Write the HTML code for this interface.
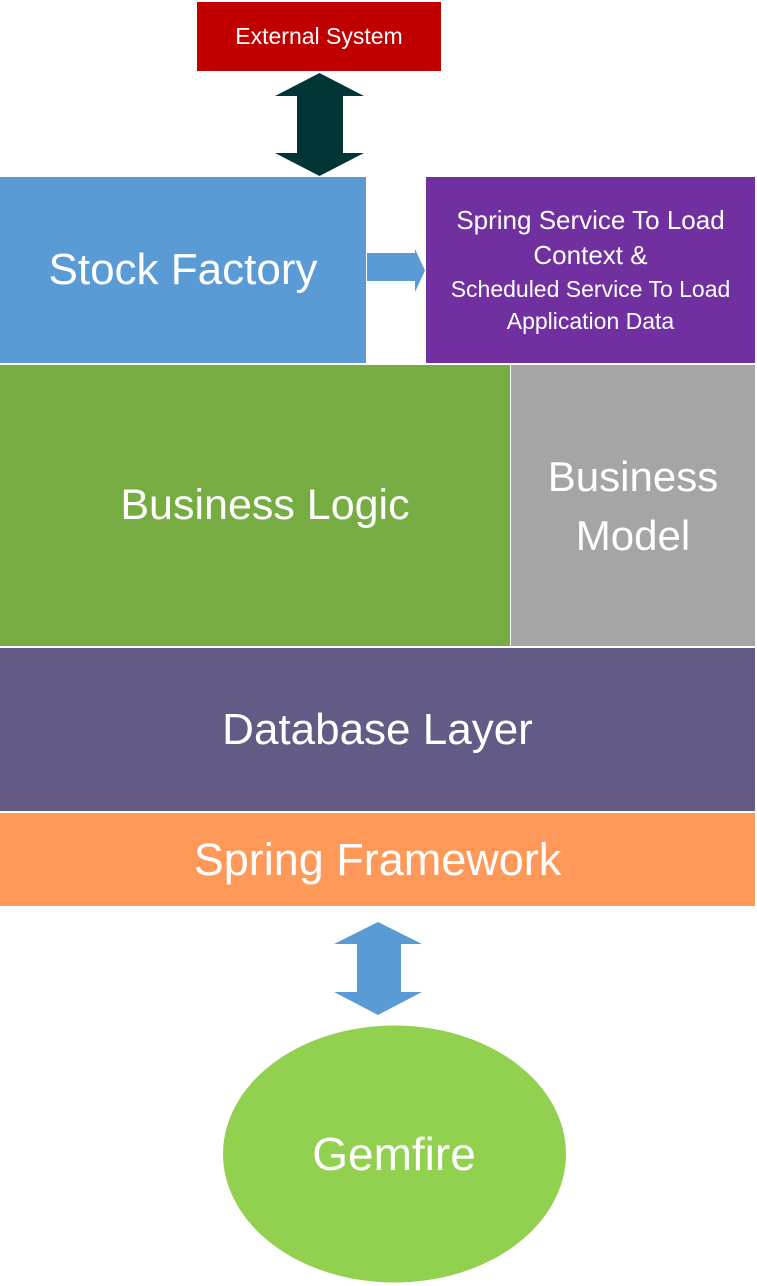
<!DOCTYPE html>
<html><head><style>
body{margin:0;width:757px;height:1286px;background:#fff;position:relative;overflow:hidden;font-family:"Liberation Sans",sans-serif;color:#fff}
.b{position:absolute;display:flex;align-items:center;justify-content:center;text-align:center}
</style></head><body>
<div class="b" style="left:197px;top:2px;width:244px;height:69px;background:#c00000;font-size:23px">External System</div>
<div class="b" style="left:0;top:177px;width:366px;height:186px;background:#5b9bd5;font-size:44px">Stock Factory</div>
<div class="b" style="left:426px;top:177px;width:329px;height:186px;background:#7030a0;font-size:26px;line-height:35px;flex-direction:column"><div>Spring Service To Load<br>Context &amp;</div><div style="font-size:23px;line-height:32px">Scheduled Service To Load<br>Application Data</div></div>
<div class="b" style="left:0;top:365px;width:510px;height:281px;background:#77ac42;font-size:43px;padding-left:20px;box-sizing:border-box">Business Logic</div>
<div class="b" style="left:511px;top:365px;width:244px;height:281px;background:#a5a5a5;font-size:42px;line-height:59px">Business<br>Model</div>
<div class="b" style="left:0;top:648px;width:755px;height:163px;background:#635a86;font-size:44px">Database Layer</div>
<div class="b" style="left:0;top:813px;width:755px;height:93px;background:#fe9959;font-size:45px">Spring Framework</div>
<svg style="position:absolute;left:0;top:0" width="757" height="1286">
<polygon points="319.5,73 364,96 343,96 343,153 364,153 319.5,176 275,153 297,153 297,96 275,96" fill="#023535"/>
<polygon points="367,253 415,253 415,249 425,270.5 415,292 415,281 367,281" fill="#5b9bd5"/>
<polygon points="378,922 422,944 401,944 401,992 422,992 378,1015 334,992 357,992 357,944 334,944" fill="#5b9bd5"/>
<ellipse cx="394.5" cy="1154" rx="171.5" ry="128.5" fill="#92d050"/>
<text x="394" y="1170" font-family="Liberation Sans, sans-serif" font-size="46" fill="#fff" text-anchor="middle">Gemfire</text>
</svg>
</body></html>
